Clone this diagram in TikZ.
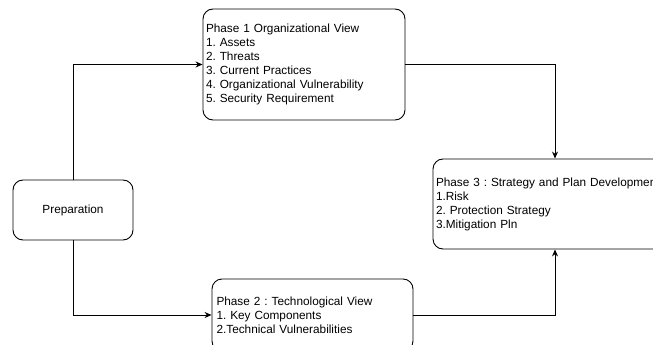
\documentclass[tikz,border=0pt]{standalone}
\usepackage{fontspec}
\setmainfont{Liberation Sans}
\usetikzlibrary{arrows.meta}
\begin{document}
\frenchspacing
\begin{tikzpicture}[x=1pt,y=-1pt,
  box/.style={draw, line width=0.9pt, rounded corners=10pt, inner xsep=3pt, inner ysep=0pt,
    font=\fontsize{11.8}{14}\selectfont\frenchspacing, align=left},
  link/.style={line width=0.9pt, -{Stealth[length=7pt,width=6pt]}}]
\useasboundingbox (0,0) rectangle (653,345);
\clip (0,0) rectangle (653,345);
\node[box, align=center, minimum width=120pt, minimum height=60pt] (prep) at (73,210) {Preparation};
\node[box, minimum width=202pt, minimum height=111pt, text width=196pt] (p1) at (304,64.5)
  {Phase 1 Organizational View\\1. Assets\\2. Threats\\3. Current Practices\\4. Organizational Vulnerability\\5. Security Requirement};
\node[box, minimum width=244pt, minimum height=90pt, text width=238pt] (p3) at (555,204)
  {Phase 3 : Strategy and Plan Development\\1.Risk\\2. Protection Strategy\\3.Mitigation Pln};
\node[box, minimum width=201pt, minimum height=72pt, text width=192pt, inner xsep=4.5pt] (p2) at (312.5,315)
  {Phase 2 : Technological View\\1. Key Components\\2.Technical Vulnerabilities};
\draw[link] (prep.north) |- (p1.west);
\draw[link] (p1.east) -| (p3.north);
\draw[link] (prep.south) |- (p2.west);
\draw[link] (p2.east) -| (p3.south);
\end{tikzpicture}
\end{document}
